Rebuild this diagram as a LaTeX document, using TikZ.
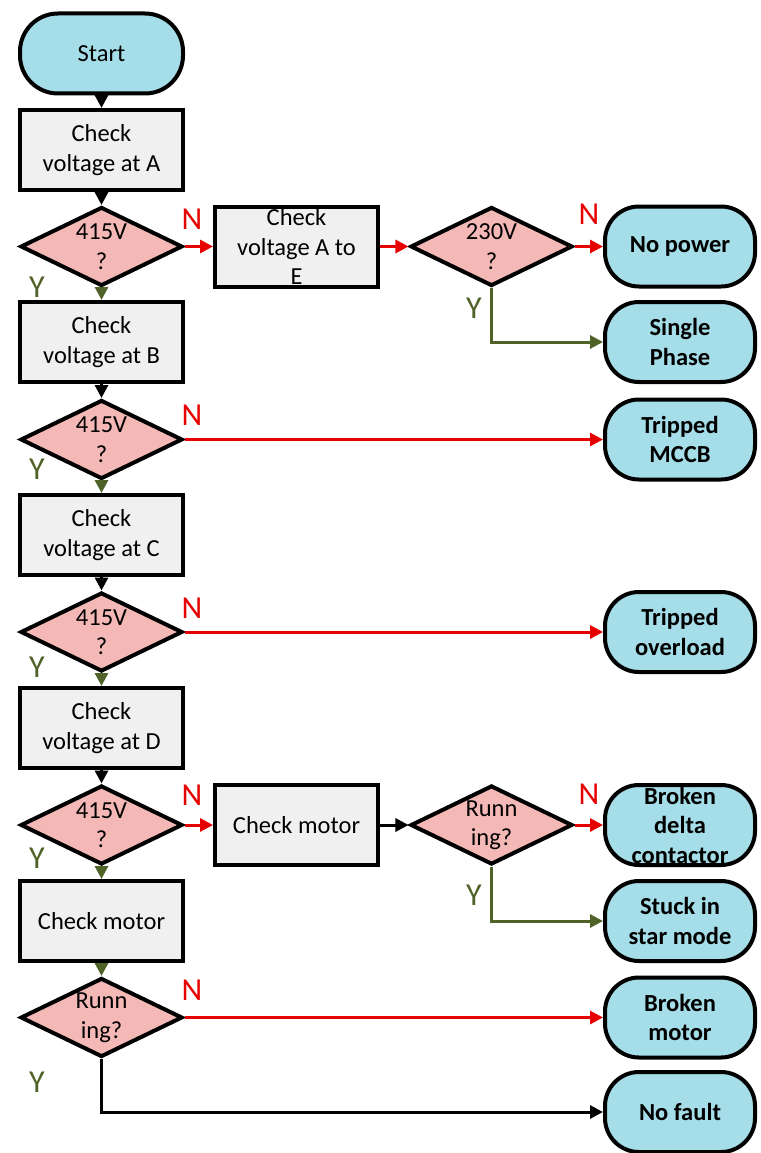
\documentclass[tikz,border=0pt]{standalone}
\usepackage{fontspec}
\setmainfont{Carlito}
\usetikzlibrary{shapes.geometric,arrows.meta}
\definecolor{termblue}{HTML}{A5DEE8}
\definecolor{boxgray}{HTML}{F0F0F0}
\definecolor{decpink}{HTML}{F4B9B6}
\definecolor{lred}{HTML}{E60000}
\definecolor{lgreen}{HTML}{4F6228}
\begin{document}
\begin{tikzpicture}[x=1pt,y=-1pt,
  every node/.style={font=\fontsize{24.5}{29.5}\selectfont, align=center},
  term/.style={draw, line width=4pt, fill=termblue, rounded corners=34pt, minimum width=150pt, minimum height=80pt, inner sep=0pt, font=\fontsize{24.5}{29.5}\selectfont\bfseries},
  startterm/.style={term, rounded corners=38pt, minimum width=163pt, font=\fontsize{24.5}{29.5}\selectfont},
  proc/.style={draw, line width=4pt, fill=boxgray, minimum width=163pt, minimum height=80pt, inner sep=0pt},
  dec/.style={diamond, draw, line width=4pt, fill=decpink, minimum width=162pt, minimum height=79pt, inner sep=0pt, shape aspect=2},
  ar/.style={line width=3pt, draw=black, -{Triangle[length=13pt,width=13pt]}},
  arr/.style={ar, draw=lred, -{Triangle[length=13pt,width=13pt,fill=lred]}},
  arg/.style={ar, draw=lgreen, -{Triangle[length=13pt,width=13pt,fill=lgreen]}},
  nlab/.style={text=lred, font=\fontsize{32}{36}\selectfont},
  ylab/.style={text=lgreen, font=\fontsize{32}{36}\selectfont}]
\useasboundingbox (0,0) rectangle (760,1153);
% left column
\node[startterm] (start) at (101.5,53.5) {Start};
\node[proc] (ca) at (101.5,150) {Check\\voltage at A};
\node[dec] (d1) at (101.5,246.5) {415V\\?};
\node[proc] (cb) at (101.5,342) {Check\\voltage at B};
\node[dec] (d2) at (101.5,439.5) {415V\\?};
\node[proc] (cc) at (101.5,535) {Check\\voltage at C};
\node[dec] (d3) at (101.5,632) {415V\\?};
\node[proc] (cd) at (101.5,728) {Check\\voltage at D};
\node[dec] (d4) at (101.5,825) {415V\\?};
\node[proc] (cm) at (101.5,921) {Check motor};
\node[dec] (d5) at (101.5,1017.5) {Runn\\ing?};
% middle
\node[proc] (cae) at (296.5,246.5) {Check\\voltage A to\\E};
\node[dec] (d230) at (491.5,246.5) {230V\\?};
\node[proc] (cm2) at (296.5,825) {Check motor};
\node[dec] (drun) at (491.5,825) {Runn\\ing?};
% right terminals
\node[term] (nopower) at (680,246.5) {No power};
\node[term] (single) at (680,342) {Single\\Phase};
\node[term] (mccb) at (680,439.5) {Tripped\\MCCB};
\node[term] (overload) at (680,632) {Tripped\\overload};
\node[term] (delta) at (680,825) {Broken\\delta\\contactor};
\node[term] (star) at (680,921) {Stuck in\\star mode};
\node[term] (bmotor) at (680,1017.5) {Broken\\motor};
\node[term] (nofault) at (680,1112) {No fault};
% connectors
\draw[ar] (start) -- (ca);
\draw[ar] (ca) -- (d1);
\draw[arg] (d1) -- (cb);
\draw[arr] (d1) -- (cae);
\draw[arr] (cae) -- (d230);
\draw[arr] (d230) -- (nopower);
\draw[arg] (d230.south) |- (single);
\draw[ar] (cb) -- (d2);
\draw[arg] (d2) -- (cc);
\draw[arr] (d2) -- (mccb);
\draw[ar] (cc) -- (d3);
\draw[arg] (d3) -- (cd);
\draw[arr] (d3) -- (overload);
\draw[ar] (cd) -- (d4);
\draw[arg] (d4) -- (cm);
\draw[arr] (d4) -- (cm2);
\draw[ar] (cm2) -- (drun);
\draw[arr] (drun) -- (delta);
\draw[arg] (drun.south) |- (star);
\draw[arg] (cm) -- (d5);
\draw[arr] (d5) -- (bmotor);
\draw[ar] (d5.south) |- (nofault);
% labels
\node[nlab] (n1) at (192,219) {N};
\node[nlab] (n2) at (589,214) {N};
\node[nlab] (n3) at (192,415) {N};
\node[nlab] (n4) at (192,608) {N};
\node[nlab] (n5) at (192,795) {N};
\node[nlab] (n6) at (589,794) {N};
\node[nlab] (n7) at (192,990) {N};
\node[ylab] (y1) at (37,287) {Y};
\node[ylab] (y2) at (474,308) {Y};
\node[ylab] (y3) at (37,469) {Y};
\node[ylab] (y4) at (37,667) {Y};
\node[ylab] (y5) at (37,858) {Y};
\node[ylab] (y6) at (474,895) {Y};
\node[ylab] (y7) at (37,1082) {Y};
\end{tikzpicture}
\end{document}
